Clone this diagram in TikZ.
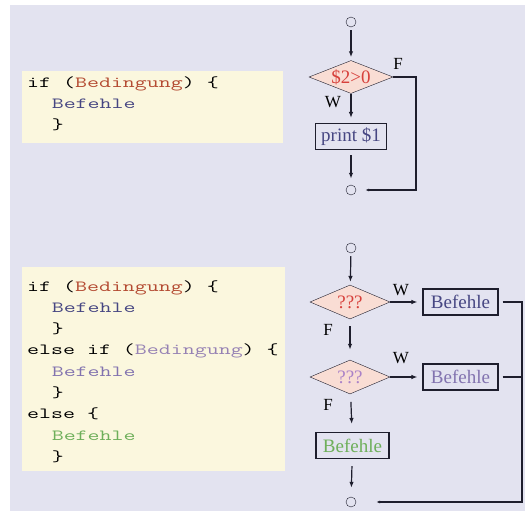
\documentclass[tikz,border=0pt]{standalone}
\usepackage{fontspec}
\usetikzlibrary{shapes.geometric,arrows.meta}
\newfontfamily\codefont[FakeStretch=1.5]{Latin Modern Mono}
\newfontfamily\flowfont{Liberation Serif}
\definecolor{pagebg}{RGB}{227,227,240}
\definecolor{codebg}{RGB}{251,247,222}
\definecolor{condfill}{RGB}{249,221,212}
\definecolor{linec}{RGB}{30,30,45}
\definecolor{condA}{RGB}{180,75,50}
\definecolor{cmdA}{RGB}{70,70,130}
\definecolor{condB}{RGB}{150,130,180}
\definecolor{cmdB}{RGB}{130,115,175}
\definecolor{cmdC}{RGB}{110,175,90}
\definecolor{qred}{RGB}{215,65,60}
\definecolor{qviolet}{RGB}{170,130,200}
\begin{document}
\begin{tikzpicture}[x=1pt,y=-1pt,
  code/.style={anchor=base west, inner sep=0, font=\codefont\fontsize{15.5}{18}\selectfont},
  cond/.style={diamond, draw=linec, fill=condfill, aspect=2.5, inner sep=0,
    minimum width=84, minimum height=33, font=\flowfont\fontsize{19}{22}\selectfont},
  stmt/.style={rectangle, draw=linec, line width=1.1pt, minimum height=26, inner sep=1pt,
    font=\flowfont\fontsize{19}{22}\selectfont},
  term/.style={circle, draw=linec, minimum size=10, inner sep=0},
  lab/.style={inner sep=0, font=\flowfont\fontsize{17}{20}\selectfont},
  flow/.style={-{Latex[length=6pt,width=4.5pt]}, linec, line width=1.2pt},
  ret/.style={-{Latex[length=4pt,width=3pt]}, linec, line width=1.2pt},
  back/.style={linec, line width=1.2pt}]
\useasboundingbox (0,0) rectangle (525,511);
\fill[pagebg] (10,5) rectangle (525,511);

% if
\fill[codebg] (22,71) rectangle (283,143);
\node[code] (t1) at (27,88) {if (\textcolor{condA}{Bedingung}) \{};
\node[code] (t2) at (51.6,108.8) {\textcolor{cmdA}{Befehle}};
\node[code] (t3) at (51.6,129.6) {\}};

\node[term] (s1) at (351,22) {};
\node[cond] (c1) at (351,77) {\textcolor{qred}{\$2>0}};
\node[stmt, minimum width=71] (p1) at (351,136.5) {\textcolor{cmdA}{print \$1}};
\node[term] (e1) at (351,190) {};
\node[lab] (f1) at (398,64) {F};
\node[lab] (w1) at (333,102) {W};
\coordinate (r1) at (416,77);
\coordinate (r2) at (416,190);
\draw[flow, shorten <=3pt, shorten >=3pt] (s1) -- (c1);
\draw[flow, shorten >=5pt] (c1) -- (p1);
\draw[flow, shorten <=5pt, shorten >=6pt] (p1) -- (e1);
\draw[ret, shorten >=9pt] (c1.east) -- (r1) -- (r2) -- (e1);

% if / else if / else
\fill[codebg] (22,267) rectangle (285,471);
\node[code] (u1) at (27,291) {if (\textcolor{condA}{Bedingung}) \{};
\node[code] (u2) at (51.6,312.3) {\textcolor{cmdA}{Befehle}};
\node[code] (u3) at (51.6,333.6) {\}};
\node[code] (u4) at (27,354.9) {else if (\textcolor{condB}{Bedingung}) \{};
\node[code] (u5) at (51.6,376.2) {\textcolor{cmdB}{Befehle}};
\node[code] (u6) at (51.6,397.5) {\}};
\node[code] (u7) at (27,418.8) {else \{};
\node[code] (u8) at (51.6,440.1) {\textcolor{cmdC}{Befehle}};
\node[code] (u9) at (51.6,461.4) {\}};

\node[term] (s2) at (351,248) {};
\node[cond, minimum width=80, minimum height=34] (c2) at (350,302) {\textcolor{qred}{???}};
\node[stmt, minimum width=75] (b1) at (460.5,302) {\textcolor{cmdA}{Befehle}};
\node[cond, minimum width=80, minimum height=34] (c3) at (350,377) {\textcolor{qviolet}{???}};
\node[stmt, minimum width=75] (b2) at (460.5,377) {\textcolor{cmdB}{Befehle}};
\node[stmt, minimum width=73] (b3) at (352.5,445.5) {\textcolor{cmdC}{Befehle}};
\node[term] (e2) at (351,502) {};
\node[lab] (w2) at (401,290) {W};
\node[lab] (f2) at (328,330) {F};
\node[lab] (w3) at (401,358) {W};
\node[lab] (f3) at (328,405) {F};
\coordinate (r3) at (522,302);
\coordinate (r4) at (522,502);
\draw[flow, shorten <=3pt, shorten >=3pt] (s2) -- (c2);
\draw[flow, shorten >=5pt] (c2.east) -- (b1.west);
\draw[flow, shorten <=7pt, shorten >=10pt] (c2) -- (c3);
\draw[flow, shorten >=5pt] (c3.east) -- (b2.west);
\draw[flow, shorten <=8pt, shorten >=8pt] (c3) -- (b3);
\draw[flow, shorten <=7pt, shorten >=9pt] (b3) -- (e2);
\draw[ret, shorten <=4pt, shorten >=20pt] (b1.east) -- (r3) -- (r4) -- (e2);
\draw[back, shorten <=4pt] (b2.east) -- (b2.east -| r3);
\end{tikzpicture}
\end{document}
